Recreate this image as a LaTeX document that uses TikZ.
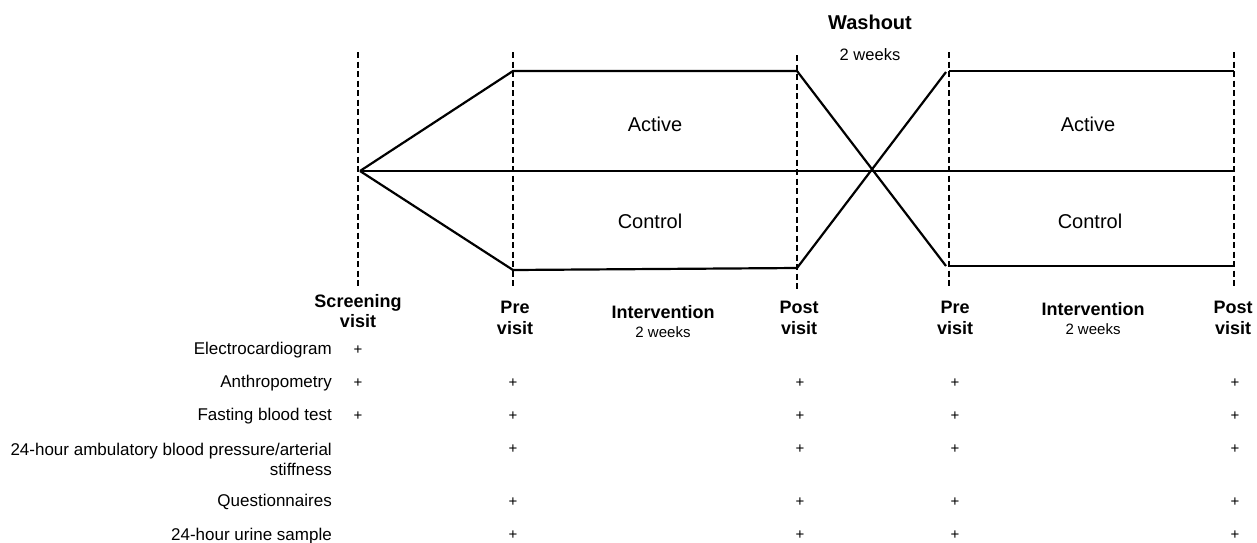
\documentclass[tikz,border=0pt]{standalone}
\usepackage{fontspec}
\setmainfont{Liberation Sans}
\begin{document}
\begin{tikzpicture}[x=1pt,y=-1pt,
  arm/.style={line width=2.2pt},
  visitline/.style={line width=2pt, dash pattern=on 6pt off 3.5pt},
  head/.style={font=\fontsize{18}{20.5}\selectfont\bfseries, align=center, inner sep=0pt},
  grp/.style={font=\fontsize{20}{23}\selectfont, inner sep=0pt},
  rowlbl/.style={font=\fontsize{17}{20}\selectfont, align=right, anchor=east, inner sep=0pt},
  plus/.style={font=\fontsize{15}{17}\selectfont, inner sep=0pt},
  dur/.style={font=\fontsize{15}{17}\selectfont, inner sep=0pt}]
\useasboundingbox (0,0) rectangle (1257,542);
% visit lines
\coordinate (s1) at (358,52);  \coordinate (s2) at (358,288);
\coordinate (a1) at (513,52);  \coordinate (a2) at (513,288);
\coordinate (b1) at (797,55);  \coordinate (b2) at (797,290);
\coordinate (c1) at (949,52);  \coordinate (c2) at (949,288);
\coordinate (d1) at (1234,52); \coordinate (d2) at (1234,286);
\foreach \u/\v in {s1/s2,a1/a2,b1/b2,c1/c2,d1/d2} \draw[visitline] (\u) -- (\v);
% arms
\coordinate (S) at (360,171);
\coordinate (P1t) at (513,71);  \coordinate (P1b) at (513,270);
\coordinate (Q1t) at (797,71);  \coordinate (Q1b) at (797,268);
\coordinate (X2t) at (946,72);  \coordinate (X2b) at (946,266);
\coordinate (P2t) at (949,71);  \coordinate (P2b) at (949,266);
\coordinate (Q2t) at (1234,71); \coordinate (Q2b) at (1234,266);
\coordinate (E) at (1234,171);
\draw[arm] (S) -- (P1t) -- (Q1t) -- (X2b);
\draw[arm] (S) -- (P1b) -- (Q1b) -- (X2t);
\draw[arm] (S) -- (E);
\draw[arm] (P2t) -- (Q2t);
\draw[arm] (P2b) -- (Q2b);
% group labels
\node[grp] (act1) at (655,124) {Active};
\node[grp] (con1) at (650,221) {Control};
\node[grp] (act2) at (1088,124) {Active};
\node[grp] (con2) at (1090,221) {Control};
\node[font=\fontsize{20}{23}\selectfont\bfseries, inner sep=0pt] (wash) at (870,22) {Washout};
\node[font=\fontsize{16.5}{19}\selectfont, inner sep=0pt] (washd) at (870,55) {2 weeks};
% visit headings
\node[head] (hs) at (358,311) {Screening\\visit};
\node[head] (h1) at (515,318) {Pre\\visit};
\node[head] (i1) at (663,312) {Intervention};
\node[dur] (i1d) at (663,332) {2 weeks};
\node[head] (h2) at (799,318) {Post\\visit};
\node[head] (h3) at (955,318) {Pre\\visit};
\node[head] (i2) at (1093,309) {Intervention};
\node[dur] (i2d) at (1093,329) {2 weeks};
\node[head] (h4) at (1233,318) {Post\\visit};
% row labels
\node[rowlbl] (r1) at (332,350) {Electrocardiogram};
\node[rowlbl] (r2) at (332,383) {Anthropometry};
\node[rowlbl] (r3) at (332,416) {Fasting blood test};
\node[rowlbl] (r4) at (332,459) {24-hour ambulatory blood pressure/arterial\\stiffness};
\node[rowlbl] (r5) at (332,502) {Questionnaires};
\node[rowlbl] (r6) at (332,536) {24-hour urine sample};
% plus marks
\node[plus] (p11) at (358,350) {+};
\node[plus] (p21) at (358,383) {+};
\node[plus] (p31) at (358,416) {+};
\foreach \x [count=\i] in {513,800,955,1235} {
  \node[plus] (q2\i) at (\x,383) {+};
  \node[plus] (q3\i) at (\x,416) {+};
  \node[plus] (q4\i) at (\x,449) {+};
  \node[plus] (q5\i) at (\x,502) {+};
  \node[plus] (q6\i) at (\x,535) {+};
}
\end{tikzpicture}
\end{document}
